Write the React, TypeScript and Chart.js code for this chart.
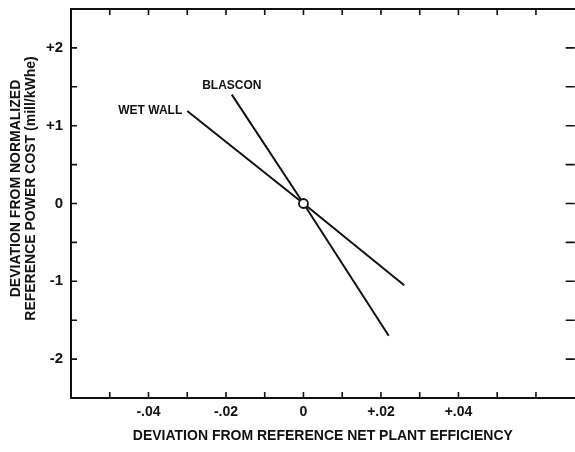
import React, { useEffect, useRef } from "react";
import { Chart, registerables } from "chart.js";

Chart.register(...registerables);

// ---- data ----
const wetWallX = [-0.030, 0, 0.026];
const wetWallY = [1.19, 0, -1.05];
const blasconX = [-0.0185, 0, 0.022];
const blasconY = [1.40, 0, -1.70];
const referenceX = [0];
const referenceY = [0];
const seriesNames = ["WET WALL", "BLASCON"];

const xMin = -0.06;
const xMax = 0.07;
const yMin = -2.5;
const yMax = 2.5;
const xLabelledTicks = [-0.04, -0.02, 0, 0.02, 0.04];
const xTickText = ["-.04", "-.02", "0", "+.02", "+.04"];
const yLabelledTicks = [-2, -1, 0, 1, 2];
const yTickText = ["-2", "-1", "0", "+1", "+2"];

const xTitle = "DEVIATION FROM REFERENCE NET PLANT EFFICIENCY";
const yTitleLines = ["DEVIATION FROM NORMALIZED", "REFERENCE POWER COST (mill/kWhe)"];

const FONT = "'Liberation Sans', Arial, sans-serif";
const INK = "#111";

const toPoints = (xs: number[], ys: number[]) => xs.map((x, i) => ({ x, y: ys[i] }));
const near = (a: number, b: number) => Math.abs(a - b) < 1e-6;

const framePlugin = {
  id: "frame",
  afterDraw(chart: any) {
    const { ctx, chartArea } = chart;
    const xs = chart.scales.x;
    const ys = chart.scales.y;
    const { left, right, top, bottom } = chartArea;
    ctx.save();
    ctx.strokeStyle = INK;
    ctx.lineWidth = 2;
    ctx.lineCap = "square";
    // frame: left, bottom, top (no right line)
    ctx.beginPath();
    ctx.moveTo(right, top);
    ctx.lineTo(left, top);
    ctx.lineTo(left, bottom);
    ctx.lineTo(right, bottom);
    ctx.stroke();
    // inward ticks
    ctx.lineWidth = 1.6;
    ctx.lineCap = "butt";
    const tl = 6;
    xs.ticks.forEach((t: any) => {
      if (near(t.value, xMin) || near(t.value, xMax)) return;
      const px = xs.getPixelForValue(t.value);
      ctx.beginPath();
      ctx.moveTo(px, top);
      ctx.lineTo(px, top + tl);
      ctx.moveTo(px, bottom);
      ctx.lineTo(px, bottom - tl);
      ctx.stroke();
    });
    ys.ticks.forEach((t: any) => {
      if (near(t.value, yMin) || near(t.value, yMax)) return;
      const py = ys.getPixelForValue(t.value);
      ctx.beginPath();
      ctx.moveTo(left, py);
      ctx.lineTo(left + tl, py);
      ctx.moveTo(right, py);
      ctx.lineTo(right - 9, py);
      ctx.stroke();
    });

    // series labels at the start of each line
    ctx.fillStyle = INK;
    ctx.font = `bold 12px ${FONT}`;
    const wx = xs.getPixelForValue(wetWallX[0]);
    const wy = ys.getPixelForValue(wetWallY[0]);
    ctx.textAlign = "right";
    ctx.textBaseline = "middle";
    ctx.fillText(seriesNames[0], wx - 5, wy);
    const bx = xs.getPixelForValue(blasconX[0]);
    const by = ys.getPixelForValue(blasconY[0]);
    ctx.textAlign = "center";
    ctx.textBaseline = "bottom";
    ctx.fillText(seriesNames[1], bx, by - 3);

    // y-axis title (two rotated lines)
    ctx.font = `bold 14px ${FONT}`;
    ctx.textAlign = "center";
    ctx.textBaseline = "middle";
    const cy = (top + bottom) / 2 - 15;
    yTitleLines.forEach((line, i) => {
      ctx.save();
      ctx.translate(16 + i * 15, cy);
      ctx.rotate(-Math.PI / 2);
      ctx.fillText(line, 0, 0);
      ctx.restore();
    });
    ctx.restore();
  },
};

function App() {
  const canvasRef = useRef<HTMLCanvasElement | null>(null);

  useEffect(() => {
    const canvas = canvasRef.current;
    if (!canvas) return;
    const chart = new Chart(canvas, {
      type: "scatter",
      data: {
        datasets: [
          {
            label: "reference",
            data: toPoints(referenceX, referenceY),
            pointRadius: 4.5,
            pointBorderWidth: 1.8,
            pointBackgroundColor: "#fff",
            pointBorderColor: INK,
            showLine: false,
            order: 0,
          },
          {
            label: seriesNames[0],
            data: toPoints(wetWallX, wetWallY),
            showLine: true,
            borderColor: INK,
            borderWidth: 2,
            pointRadius: 0,
            order: 1,
          },
          {
            label: seriesNames[1],
            data: toPoints(blasconX, blasconY),
            showLine: true,
            borderColor: INK,
            borderWidth: 2,
            pointRadius: 0,
            order: 1,
          },
        ],
      },
      options: {
        animation: false,
        responsive: false,
        devicePixelRatio: 1,
        layout: { padding: { top: 9, right: 0, bottom: 0, left: 0 } },
        plugins: { legend: { display: false }, tooltip: { enabled: false } },
        scales: {
          x: {
            type: "linear",
            min: xMin,
            max: xMax,
            border: { display: false },
            grid: { display: false, drawTicks: false },
            afterFit: (scale: any) => {
              scale.height = 54;
              scale.paddingLeft = 0;
              scale.paddingRight = 0;
            },
            ticks: {
              stepSize: 0.01,
              autoSkip: false,
              maxRotation: 0,
              padding: 6,
              color: INK,
              font: { family: FONT, size: 14, weight: "bold" },
              callback: (v: any) => {
                const i = xLabelledTicks.findIndex((t) => near(t, Number(v)));
                return i >= 0 ? xTickText[i] : "";
              },
            },
            title: {
              display: true,
              text: xTitle,
              color: INK,
              font: { family: FONT, size: 14, weight: "bold" },
              padding: { top: 0, bottom: 7 },
            },
          },
          y: {
            type: "linear",
            min: yMin,
            max: yMax,
            border: { display: false },
            grid: { display: false, drawTicks: false },
            afterFit: (scale: any) => {
              scale.width = 71;
              scale.paddingTop = 0;
              scale.paddingBottom = 0;
            },
            ticks: {
              stepSize: 0.5,
              autoSkip: false,
              padding: 8,
              color: INK,
              font: { family: FONT, size: 15, weight: "bold" },
              callback: (v: any) => {
                const i = yLabelledTicks.findIndex((t) => near(t, Number(v)));
                return i >= 0 ? yTickText[i] : "";
              },
            },
          },
        },
      },
      plugins: [framePlugin],
    } as any);
    return () => chart.destroy();
  }, []);

  return (
    <div
      style={{
        position: "fixed",
        left: 0,
        top: 0,
        width: 575,
        height: 452,
        overflow: "hidden",
        background: "#fff",
      }}
    >
      <canvas ref={canvasRef} width={581} height={452} style={{ display: "block" }} />
    </div>
  );
}

export default App;
